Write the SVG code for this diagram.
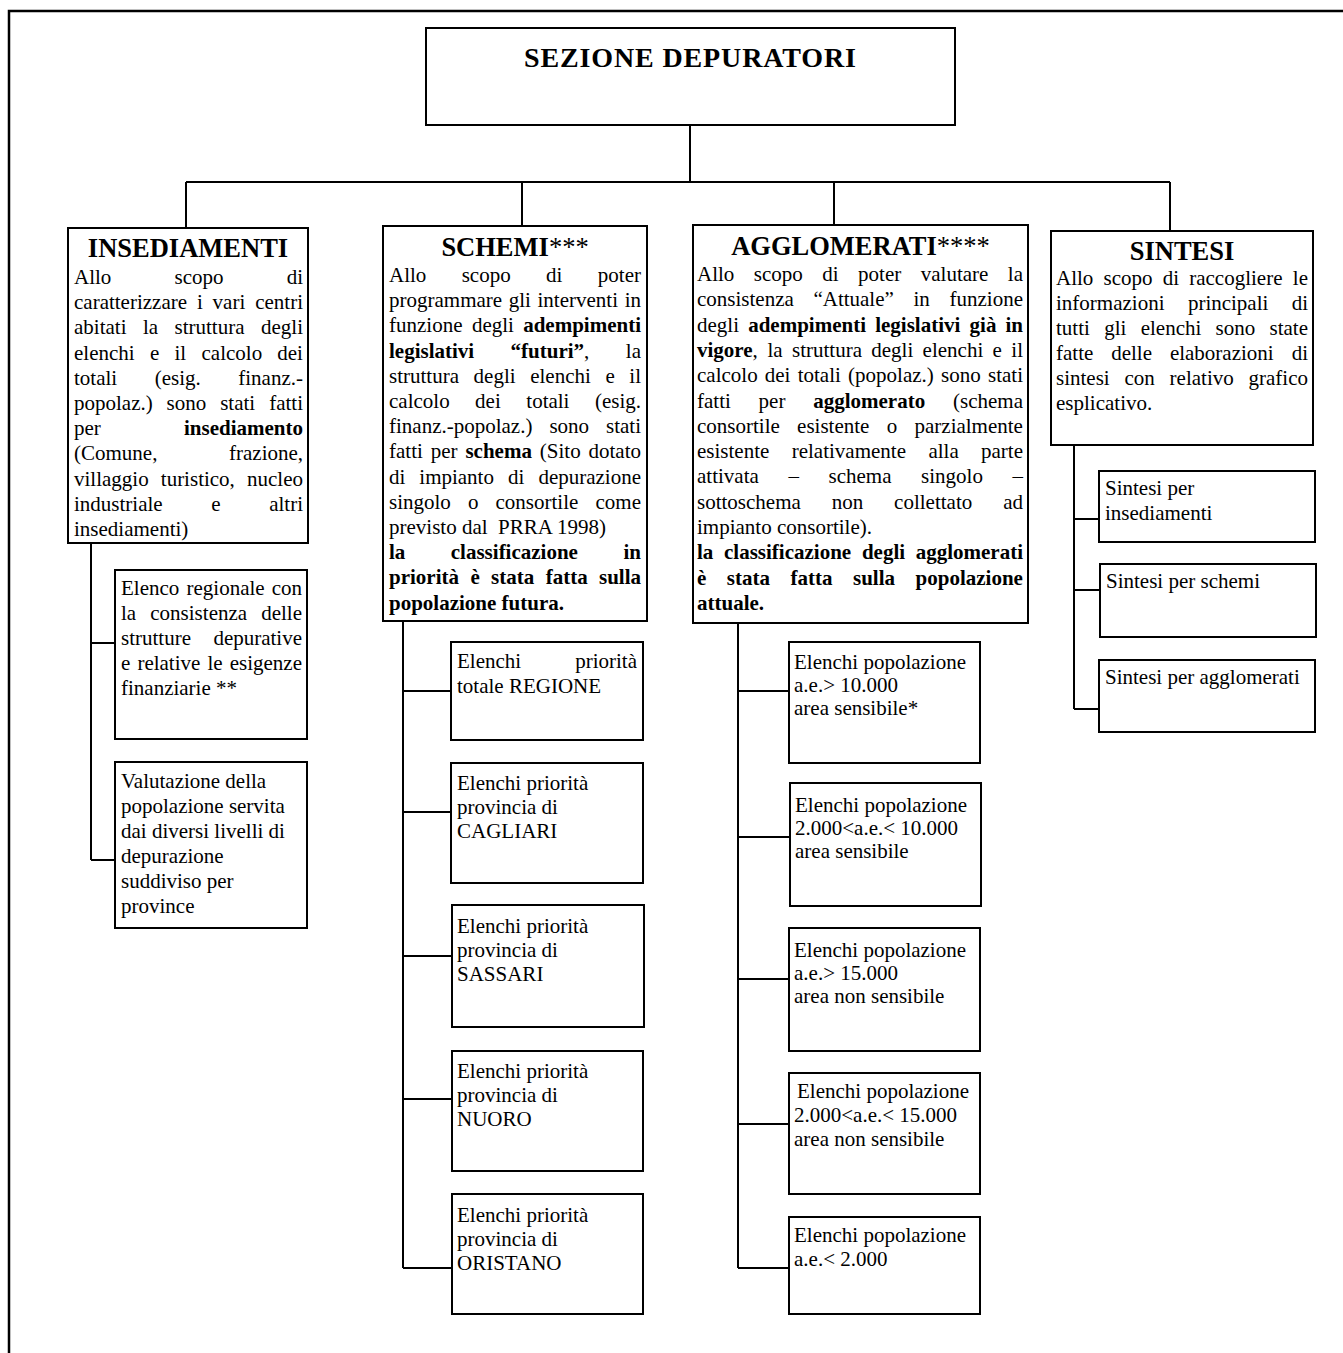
<svg xmlns="http://www.w3.org/2000/svg" width="1343" height="1353" viewBox="0 0 1343 1353">
<style>
.box{fill:#fff;stroke:#000;stroke-width:2}
.ln{stroke:#000;stroke-width:2;fill:none}
.fr{stroke:#000;stroke-width:2.5;fill:none}
text{font-family:"Liberation Serif","Times New Roman",serif;font-size:21px;fill:#000}
.b{font-weight:bold}
.h{font-size:26.5px;font-weight:bold;text-anchor:middle}
.hs{font-weight:normal}
.e{text-anchor:end}
</style>
<rect width="1343" height="1353" fill="#fff"/>
<path class="fr" d="M9 1360 V11 H1360"/>
<g id="connectors">
<path class="ln" d="M690 125 V182 M186 182 H1170 M186 182 V228 M522 182 V226 M834 182 V225 M1170 182 V231"/>
<path class="ln" d="M91 543 V860 M91 643 H115 M91 860 H115"/>
<path class="ln" d="M403 621 V1268 M403 691 H451 M403 812 H451 M403 956 H452 M403 1099 H452 M403 1268 H452"/>
<path class="ln" d="M738 623 V1268 M738 691 H789 M738 837 H790 M738 979 H789 M738 1124 H789 M738 1268 H789"/>
<path class="ln" d="M1074 445 V709 M1074 519 H1099 M1074 590 H1100 M1074 709 H1099"/>
</g>
<g id="sezione">
<rect class="box" x="426" y="28" width="529" height="97"/>
<text class="h" x="690" y="67" font-size="28" style="font-size:28px" textLength="332" lengthAdjust="spacing">SEZIONE DEPURATORI</text>
</g>
<g id="insediamenti">
<rect class="box" x="68" y="228" width="240" height="315"/>
<text class="h" x="188" y="257">INSEDIAMENTI</text>
<text y="284"><tspan x="74">Allo</tspan><tspan x="174.5">scopo</tspan><tspan x="286.7">di</tspan></text>
<text y="309.2"><tspan x="74">caratterizzare</tspan><tspan x="196.9">i</tspan><tspan x="212.6">vari</tspan><tspan x="255.2">centri</tspan></text>
<text y="334.4"><tspan x="74">abitati</tspan><tspan x="142.9">la</tspan><tspan x="174.5">struttura</tspan><tspan x="261">degli</tspan></text>
<text y="359.6"><tspan x="74">elenchi</tspan><tspan x="149.9">e</tspan><tspan x="174.5">il</tspan><tspan x="201.5">calcolo</tspan><tspan x="277.3">dei</tspan></text>
<text y="384.8"><tspan x="74">totali</tspan><tspan x="154.7">(esig.</tspan><tspan x="238.3">finanz.-</tspan></text>
<text y="410"><tspan x="74">popolaz.)</tspan><tspan x="166.6">sono</tspan><tspan x="220.2">stati</tspan><tspan x="269.2">fatti</tspan></text>
<text y="435.2"><tspan x="74">per</tspan><tspan x="184" class="b">insediamento</tspan></text>
<text y="460.4"><tspan x="74">(Comune,</tspan><tspan x="229">frazione,</tspan></text>
<text y="485.6"><tspan x="74">villaggio</tspan><tspan x="160.8">turistico,</tspan><tspan x="247">nucleo</tspan></text>
<text y="510.8"><tspan x="74">industriale</tspan><tspan x="211.3">e</tspan><tspan x="269.2">altri</tspan></text>
<text y="536" x="74">insediamenti)</text>
</g>
<g id="ins-elenco">
<rect class="box" x="115" y="570" width="192" height="169"/>
<text y="595"><tspan x="121">Elenco</tspan><tspan x="186.5">regionale</tspan><tspan x="271.7">con</tspan></text>
<text y="620"><tspan x="121">la</tspan><tspan x="150.3">consistenza</tspan><tspan x="261.2">delle</tspan></text>
<text y="645"><tspan x="121">strutture</tspan><tspan x="213.4">depurative</tspan></text>
<text y="670"><tspan x="121">e</tspan><tspan x="137.4">relative</tspan><tspan x="207.5">le</tspan><tspan x="229.7">esigenze</tspan></text>
<text y="695" x="121">finanziarie **</text>
</g>
<g id="ins-valutazione">
<rect class="box" x="115" y="762" width="192" height="166"/>
<text x="121" y="788">Valutazione della</text>
<text x="121" y="813">popolazione servita</text>
<text x="121" y="838">dai diversi livelli di</text>
<text x="121" y="863">depurazione</text>
<text x="121" y="888">suddiviso per</text>
<text x="121" y="913">province</text>
</g>
<g id="schemi">
<rect class="box" x="383" y="226" width="264" height="395"/>
<text class="h" x="515" y="256">SCHEMI<tspan class="hs">***</tspan></text>
<text y="282"><tspan x="389">Allo</tspan><tspan x="461.7">scopo</tspan><tspan x="546.1">di</tspan><tspan x="597.8">poter</tspan></text>
<text y="307.2"><tspan x="389">programmare</tspan><tspan x="508.7">gli</tspan><tspan x="537.5">interventi</tspan><tspan x="624.7">in</tspan></text>
<text y="332.4"><tspan x="389">funzione</tspan><tspan x="471.9">degli</tspan><tspan x="523.2" class="b">adempimenti</tspan></text>
<text y="357.6"><tspan x="389" class="b">legislativi</tspan><tspan x="510.6" class="b">“futuri”</tspan><tspan>,</tspan><tspan x="625.8">la</tspan></text>
<text y="382.8"><tspan x="389">struttura</tspan><tspan x="473.6">degli</tspan><tspan x="530.2">elenchi</tspan><tspan x="605.4">e</tspan><tspan x="629.3">il</tspan></text>
<text y="408"><tspan x="389">calcolo</tspan><tspan x="475.1">dei</tspan><tspan x="526.3">totali</tspan><tspan x="594.9">(esig.</tspan></text>
<text y="433.2"><tspan x="389">finanz.-popolaz.)</tspan><tspan x="549.4">sono</tspan><tspan x="606">stati</tspan></text>
<text y="458.4"><tspan x="389">fatti</tspan><tspan x="430.7">per</tspan><tspan x="465.4" class="b">schema</tspan><tspan x="539.8">(Sito</tspan><tspan x="588.5">dotato</tspan></text>
<text y="483.6"><tspan x="389">di</tspan><tspan x="419.3">impianto</tspan><tspan x="508">di</tspan><tspan x="538.4">depurazione</tspan></text>
<text y="508.8"><tspan x="389">singolo</tspan><tspan x="467.9">o</tspan><tspan x="495.5">consortile</tspan><tspan x="595.5">come</tspan></text>
<text y="534" x="389">previsto dal&#160; PRRA 1998)</text>
<text y="559.2" class="b"><tspan x="389">la</tspan><tspan x="450.8">classificazione</tspan><tspan x="623.5">in</tspan></text>
<text y="584.4" class="b"><tspan x="389">priorità</tspan><tspan x="470.4">è</tspan><tspan x="491.1">stata</tspan><tspan x="545.7">fatta</tspan><tspan x="599">sulla</tspan></text>
<text y="609.6" x="389" class="b">popolazione futura.</text>
</g>
<g id="sch-regione">
<rect class="box" x="451" y="642" width="192" height="98"/>
<text y="668"><tspan x="457">Elenchi</tspan><tspan x="575.2">priorità</tspan></text>
<text x="457" y="693">totale REGIONE</text>
</g>
<g id="sch-cagliari">
<rect class="box" x="451" y="763" width="192" height="120"/>
<text x="457" y="790">Elenchi priorità</text>
<text x="457" y="814">provincia di</text>
<text x="457" y="838">CAGLIARI</text>
</g>
<g id="sch-sassari">
<rect class="box" x="452" y="905" width="192" height="122"/>
<text x="457" y="933">Elenchi priorità</text>
<text x="457" y="957">provincia di</text>
<text x="457" y="981">SASSARI</text>
</g>
<g id="sch-nuoro">
<rect class="box" x="452" y="1051" width="191" height="120"/>
<text x="457" y="1078">Elenchi priorità</text>
<text x="457" y="1102">provincia di</text>
<text x="457" y="1126">NUORO</text>
</g>
<g id="sch-oristano">
<rect class="box" x="452" y="1194" width="191" height="120"/>
<text x="457" y="1222">Elenchi priorità</text>
<text x="457" y="1246">provincia di</text>
<text x="457" y="1270">ORISTANO</text>
</g>
<g id="agglomerati">
<rect class="box" x="693" y="225" width="335" height="398"/>
<text class="h" x="860.5" y="255">AGGLOMERATI<tspan class="hs">****</tspan></text>
<text y="281"><tspan x="697">Allo</tspan><tspan x="753.8">scopo</tspan><tspan x="822.3">di</tspan><tspan x="858.1">poter</tspan><tspan x="920.8">valutare</tspan><tspan x="1007.8">la</tspan></text>
<text y="306.3"><tspan x="697">consistenza</tspan><tspan x="813.4">“Attuale”</tspan><tspan x="913.5">in</tspan><tspan x="949.5">funzione</tspan></text>
<text y="331.6"><tspan x="697">degli</tspan><tspan x="748.2" class="b">adempimenti</tspan><tspan x="875.2" class="b">legislativi</tspan><tspan x="969.6" class="b">già</tspan><tspan x="1005.5" class="b">in</tspan></text>
<text y="356.9"><tspan x="697" class="b">vigore</tspan><tspan>,</tspan><tspan x="767.5">la</tspan><tspan x="792">struttura</tspan><tspan x="871.3">degli</tspan><tspan x="922.6">elenchi</tspan><tspan x="992.5">e</tspan><tspan x="1011.3">il</tspan></text>
<text y="382.2"><tspan x="697">calcolo</tspan><tspan x="764.8">dei</tspan><tspan x="797.7">totali</tspan><tspan x="848.1">(popolaz.)</tspan><tspan x="941">sono</tspan><tspan x="988">stati</tspan></text>
<text y="407.5"><tspan x="697">fatti</tspan><tspan x="758.6">per</tspan><tspan x="813.2" class="b">agglomerato</tspan><tspan x="953">(schema</tspan></text>
<text y="432.8"><tspan x="697">consortile</tspan><tspan x="797.1">esistente</tspan><tspan x="886.7">o</tspan><tspan x="914.5">parzialmente</tspan></text>
<text y="458.1"><tspan x="697">esistente</tspan><tspan x="791.7">relativamente</tspan><tspan x="928.4">alla</tspan><tspan x="981">parte</tspan></text>
<text y="483.4"><tspan x="697">attivata</tspan><tspan x="788.4">–</tspan><tspan x="828.5">schema</tspan><tspan x="921.1">singolo</tspan><tspan x="1012.5">–</tspan></text>
<text y="508.7"><tspan x="697">sottoschema</tspan><tspan x="831.7">non</tspan><tspan x="894.1">collettato</tspan><tspan x="1003.2">ad</tspan></text>
<text y="534" x="697">impianto consortile).</text>
<text y="559.3" class="b"><tspan x="697">la</tspan><tspan x="724">classificazione</tspan><tspan x="861.9">degli</tspan><tspan x="915.7">agglomerati</tspan></text>
<text y="584.6" class="b"><tspan x="697">è</tspan><tspan x="726.8">stata</tspan><tspan x="790.5">fatta</tspan><tspan x="853">sulla</tspan><tspan x="915.6">popolazione</tspan></text>
<text y="609.9" x="697" class="b">attuale.</text>
</g>
<g id="agg-1">
<rect class="box" x="789" y="642" width="191" height="121"/>
<text x="794" y="669">Elenchi popolazione</text>
<text x="794" y="692">a.e.&gt; 10.000</text>
<text x="794" y="715">area sensibile*</text>
</g>
<g id="agg-2">
<rect class="box" x="790" y="783" width="191" height="123"/>
<text x="795" y="812">Elenchi popolazione</text>
<text x="795" y="835">2.000&lt;a.e.&lt; 10.000</text>
<text x="795" y="858">area sensibile</text>
</g>
<g id="agg-3">
<rect class="box" x="789" y="928" width="191" height="123"/>
<text x="794" y="957">Elenchi popolazione</text>
<text x="794" y="980">a.e.&gt; 15.000</text>
<text x="794" y="1003">area non sensibile</text>
</g>
<g id="agg-4">
<rect class="box" x="789" y="1073" width="191" height="121"/>
<text x="797" y="1098">Elenchi popolazione</text>
<text x="794" y="1122">2.000&lt;a.e.&lt; 15.000</text>
<text x="794" y="1146">area non sensibile</text>
</g>
<g id="agg-5">
<rect class="box" x="789" y="1217" width="191" height="97"/>
<text x="794" y="1242">Elenchi popolazione</text>
<text x="794" y="1266">a.e.&lt; 2.000</text>
</g>
<g id="sintesi">
<rect class="box" x="1051" y="231" width="262" height="214"/>
<text class="h" x="1182" y="260">SINTESI</text>
<text y="285"><tspan x="1056">Allo</tspan><tspan x="1103.5">scopo</tspan><tspan x="1162.7">di</tspan><tspan x="1189.2">raccogliere</tspan><tspan x="1292.8">le</tspan></text>
<text y="310"><tspan x="1056">informazioni</tspan><tspan x="1187.9">principali</tspan><tspan x="1291.7">di</tspan></text>
<text y="335"><tspan x="1056">tutti</tspan><tspan x="1104.2">gli</tspan><tspan x="1140.7">elenchi</tspan><tspan x="1215.6">sono</tspan><tspan x="1269.5">state</tspan></text>
<text y="360"><tspan x="1056">fatte</tspan><tspan x="1111.2">delle</tspan><tspan x="1169.9">elaborazioni</tspan><tspan x="1291.7">di</tspan></text>
<text y="385"><tspan x="1056">sintesi</tspan><tspan x="1124.5">con</tspan><tspan x="1169.6">relativo</tspan><tspan x="1248.5">grafico</tspan></text>
<text y="410" x="1056">esplicativo.</text>
</g>
<g id="sin-insediamenti">
<rect class="box" x="1099" y="471" width="216" height="71"/>
<text x="1105" y="495">Sintesi per</text>
<text x="1105" y="520">insediamenti</text>
</g>
<g id="sin-schemi">
<rect class="box" x="1100" y="564" width="216" height="73"/>
<text x="1106" y="588">Sintesi per schemi</text>
</g>
<g id="sin-agglomerati">
<rect class="box" x="1099" y="660" width="216" height="72"/>
<text x="1105" y="684">Sintesi per agglomerati</text>
</g>
</svg>
